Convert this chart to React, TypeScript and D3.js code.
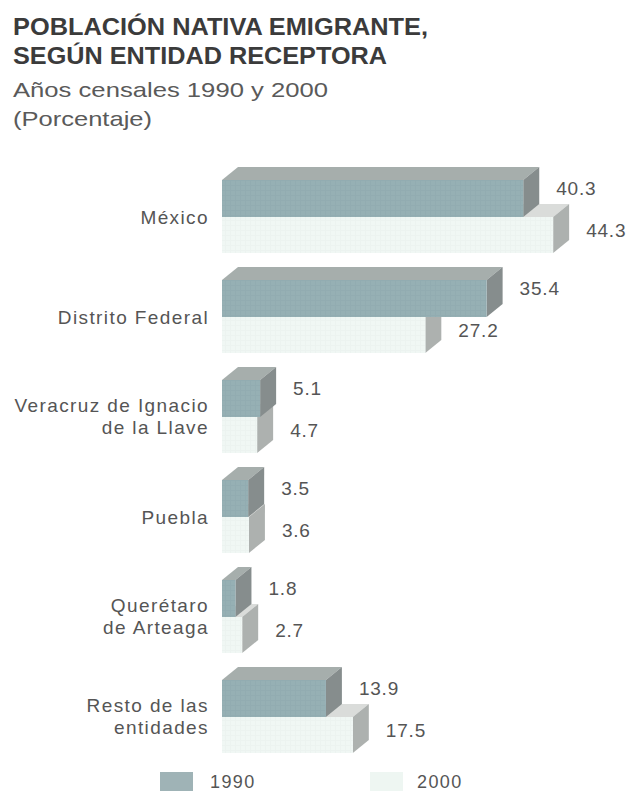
import React from "react";
import * as d3 from "d3";

const categories: string[][] = [
  ["México"],
  ["Distrito Federal"],
  ["Veracruz de Ignacio", "de la Llave"],
  ["Puebla"],
  ["Querétaro", "de Arteaga"],
  ["Resto de las", "entidades"],
];
const values1990: number[] = [40.3, 35.4, 5.1, 3.5, 1.8, 13.9];
const values2000: number[] = [44.3, 27.2, 4.7, 3.6, 2.7, 17.5];
const seriesNames: string[] = ["1990", "2000"];
const titleLines: string[] = ["POBLACIÓN NATIVA EMIGRANTE,", "SEGÚN ENTIDAD RECEPTORA"];
const subtitleLines: string[] = ["Años censales 1990 y 2000", "(Porcentaje)"];

const W = 628;
const H = 791;
const FONT = "'Liberation Sans', Arial, Helvetica, sans-serif";
const DX = 16;
const DY = 13;
const BAR_H1 = 37;
const BAR_H2 = 36;

const colors = {
  front1990: "#96b0b4",
  top1990: "#a6aeac",
  side1990: "#868d8d",
  front2000: "#f0f7f4",
  top2000: "#dadcda",
  side2000: "#adb1af",
};

function Bar3D({ x0, x1, y, h, front, top, side, pattern }: any) {
  const topPts = [
    [x0, y],
    [x0 + DX, y - DY],
    [x1 + DX, y - DY],
    [x1, y],
  ];
  const sidePts = [
    [x1, y],
    [x1 + DX, y - DY],
    [x1 + DX, y + h - DY],
    [x1, y + h],
  ];
  const pts = (p: number[][]) => p.map((d) => d.join(",")).join(" ");
  return (
    <g>
      <polygon points={pts(topPts)} fill={top} />
      <polygon points={pts(sidePts)} fill={side} />
      <rect x={x0} y={y} width={x1 - x0} height={h} fill={front} />
      {pattern && <rect x={x0} y={y} width={x1 - x0} height={h} fill={`url(#${pattern})`} />}
    </g>
  );
}

export default function App() {
  const labels = categories.map((c) => c.join(" "));
  const y = d3.scaleBand<string>().domain(labels).range([167, 767]).paddingInner(0);
  const x = d3.scaleLinear().domain([0, 40]).range([222, 521]);

  return (
    <svg
      width={W}
      height={H}
      viewBox={`0 0 ${W} ${H}`}
      style={{ position: "absolute", left: 0, top: 0, background: "#ffffff" }}
      fontFamily={FONT}
    >
      <defs>
        <pattern id="hatch1990" width="5" height="5" patternUnits="userSpaceOnUse">
          <path d="M0,0.5 H5 M0.5,0 V5" stroke="#84a0a5" strokeWidth="1" opacity="0.22" />
        </pattern>
        <pattern id="hatch2000" width="5" height="5" patternUnits="userSpaceOnUse">
          <path d="M0,0.5 H5 M0.5,0 V5" stroke="#e2ebe7" strokeWidth="1" opacity="0.3" />
        </pattern>
      </defs>
      <rect x={0} y={0} width={W} height={H} fill="#ffffff" />

      {titleLines.map((t, i) => (
        <text
          key={t}
          x={13}
          y={35 + i * 29}
          fontSize={24}
          fontWeight="bold"
          fill="#3b3b3b"
          textLength={i === 0 ? 415 : 374}
          lengthAdjust="spacingAndGlyphs"
        >
          {t}
        </text>
      ))}
      {subtitleLines.map((t, i) => (
        <text
          key={t}
          x={13}
          y={97 + i * 29}
          fontSize={21}
          fill="#5a5a5a"
          textLength={i === 0 ? 315 : 139}
          lengthAdjust="spacingAndGlyphs"
        >
          {t}
        </text>
      ))}

      {labels.map((lab, i) => {
        const b = (y(lab) as number) + y.bandwidth() / 2;
        const x0 = x(0);
        const x1990 = x(values1990[i]);
        const x2000 = x(values2000[i]);
        const lines = categories[i];
        return (
          <g key={lab}>
            <Bar3D
              x0={x0}
              x1={x2000}
              y={b}
              h={BAR_H2}
              front={colors.front2000}
              top={colors.top2000}
              side={colors.side2000}
              pattern="hatch2000"
            />
            <Bar3D
              x0={x0}
              x1={x1990}
              y={b - BAR_H1}
              h={BAR_H1}
              front={colors.front1990}
              top={colors.top1990}
              side={colors.side1990}
              pattern="hatch1990"
            />
            {lines.map((ln, j) => (
              <text
                key={ln}
                x={209}
                y={lines.length === 1 ? b + 7 : b - 5 + j * 22}
                textAnchor="end"
                fontSize={19}
                letterSpacing={1.4}
                fill="#555"
              >
                {ln}
              </text>
            ))}
            <text x={x1990 + 33} y={b - 22} fontSize={19} letterSpacing={0.8} fill="#555">
              {values1990[i].toFixed(1)}
            </text>
            <text x={x2000 + 33} y={b + 20} fontSize={19} letterSpacing={0.8} fill="#555">
              {values2000[i].toFixed(1)}
            </text>
          </g>
        );
      })}

      <g>
        <rect x={160} y={772} width={33} height={20} fill="#9fb3b6" />
        <text x={210} y={788} fontSize={18} letterSpacing={1.4} fill="#555">
          {seriesNames[0]}
        </text>
        <rect x={370} y={772} width={33} height={20} fill="#eef6f2" />
        <text x={417} y={788} fontSize={18} letterSpacing={1.4} fill="#555">
          {seriesNames[1]}
        </text>
      </g>
    </svg>
  );
}
